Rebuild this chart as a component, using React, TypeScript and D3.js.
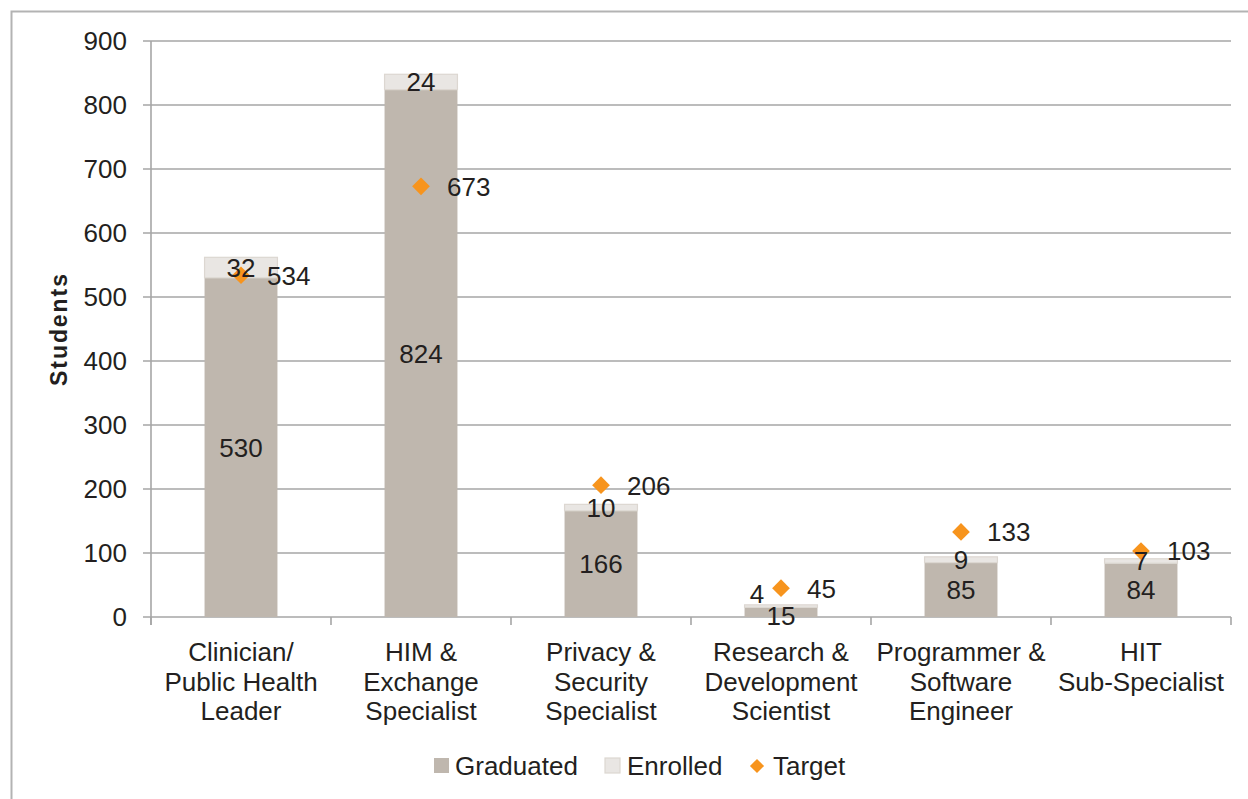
import React from "react";
import * as d3 from "d3";

const categories: string[][] = [
  ["Clinician/", "Public Health", "Leader"],
  ["HIM &", "Exchange", "Specialist"],
  ["Privacy &", "Security", "Specialist"],
  ["Research &", "Development", "Scientist"],
  ["Programmer &", "Software", "Engineer"],
  ["HIT", "Sub-Specialist"],
];
const graduated = [530, 824, 166, 15, 85, 84];
const enrolled = [32, 24, 10, 4, 9, 7];
const target = [534, 673, 206, 45, 133, 103];
const yTicks = [0, 100, 200, 300, 400, 500, 600, 700, 800, 900];

const W = 1248;
const H = 799;
const left = 151;
const right = 1231;
const top = 41;
const bottom = 617;
const FONT = "'Liberation Sans', Arial, sans-serif";
const TXT = "#231f20";
const GRID = "#a6a6a6";
const GRAD = "#bfb7ae";
const ENR = "#e9e6e3";
const ORANGE = "#f7941d";

export default function App() {
  const x = d3
    .scaleBand<number>()
    .domain(d3.range(categories.length))
    .range([left, right])
    .paddingInner(0.595)
    .paddingOuter(0.2975);
  const band = d3.scaleBand<number>().domain(d3.range(categories.length)).range([left, right]);
  const y = d3.scaleLinear().domain([0, 900]).range([bottom, top]);
  const fs = 26;
  const diamond = d3.symbol().type(d3.symbolDiamond2).size(200)() as string;

  return (
    <svg
      width={W}
      height={H}
      style={{ position: "absolute", left: 0, top: 0, display: "block", background: "#fff" }}
      fontFamily={FONT}
    >
      <rect x={11.5} y={11.5} width={W + 20} height={H + 20} fill="none" stroke="#b3b3b3" strokeWidth={2} />
      {/* gridlines */}
      {yTicks.map((t) => (
        <g key={t}>
          <line x1={left - 8} x2={right} y1={y(t)} y2={y(t)} stroke={GRID} strokeWidth={1.6} />
          <text x={127} y={y(t)} dy="0.36em" textAnchor="end" fontSize={fs} fill={TXT}>
            {t}
          </text>
        </g>
      ))}
      <line x1={left} x2={left} y1={top} y2={bottom + 8} stroke={GRID} strokeWidth={1.6} />
      {d3.range(categories.length + 1).map((i) => {
        const xx = left + i * band.bandwidth();
        return <line key={i} x1={xx} x2={xx} y1={bottom} y2={bottom + 8} stroke={GRID} strokeWidth={1.6} />;
      })}
      <text
        transform={`translate(${67},${330}) rotate(-90)`}
        textAnchor="middle"
        fontSize={23}
        fontWeight="bold"
        fill={TXT}
        textLength={112}
      >
        Students
      </text>
      {/* bars */}
      {graduated.map((g, i) => {
        const e = enrolled[i];
        const bx = x(i)!;
        const bw = x.bandwidth();
        return (
          <g key={i}>
            <rect x={bx} y={y(g)} width={bw} height={y(0) - y(g)} fill={GRAD} />
            <rect x={bx} y={y(g + e)} width={bw} height={y(g) - y(g + e)} fill={ENR} stroke="#dcd7d1" strokeWidth={1.2} />
          </g>
        );
      })}
      {/* targets */}
      {target.map((t, i) => (
        <path key={i} d={diamond} transform={`translate(${band(i)! + band.bandwidth() / 2},${y(t)})`} fill={ORANGE} />
      ))}
      {/* labels */}
      {graduated.map((g, i) => {
        const e = enrolled[i];
        const cx = band(i)! + band.bandwidth() / 2;
        const special = i === 3;
        return (
          <g key={i} fontSize={fs} fill={TXT}>
            <text x={cx} y={y(g / 2) + (special ? 3 : 0)} dy="0.36em" textAnchor="middle">
              {g}
            </text>
            <text
              x={cx + (special ? -24 : 0)}
              y={y(g + e / 2) + (special ? -12 : 0)}
              dy="0.36em"
              textAnchor="middle"
            >
              {e}
            </text>
            <text x={cx + 26} y={y(target[i])} dy="0.36em" textAnchor="start">
              {target[i]}
            </text>
          </g>
        );
      })}
      {/* category labels */}
      {categories.map((lines, i) => {
        const cx = band(i)! + band.bandwidth() / 2;
        return (
          <text key={i} textAnchor="middle" fontSize={fs} fill={TXT}>
            {lines.map((l, j) => (
              <tspan key={j} x={cx} y={661 + j * 29.5}>
                {l}
              </tspan>
            ))}
          </text>
        );
      })}
      {/* legend */}
      <g fontSize={fs} fill={TXT}>
        <rect x={434} y={758} width={15} height={15} fill={GRAD} />
        <text x={455} y={775}>Graduated</text>
        <rect x={605} y={758} width={15} height={15} fill={ENR} stroke="#dcd7d1" strokeWidth={1.2} />
        <text x={627} y={775}>Enrolled</text>
        <path d={diamond} transform="translate(757,766) scale(0.8)" fill={ORANGE} />
        <text x={773} y={775}>Target</text>
      </g>
    </svg>
  );
}
